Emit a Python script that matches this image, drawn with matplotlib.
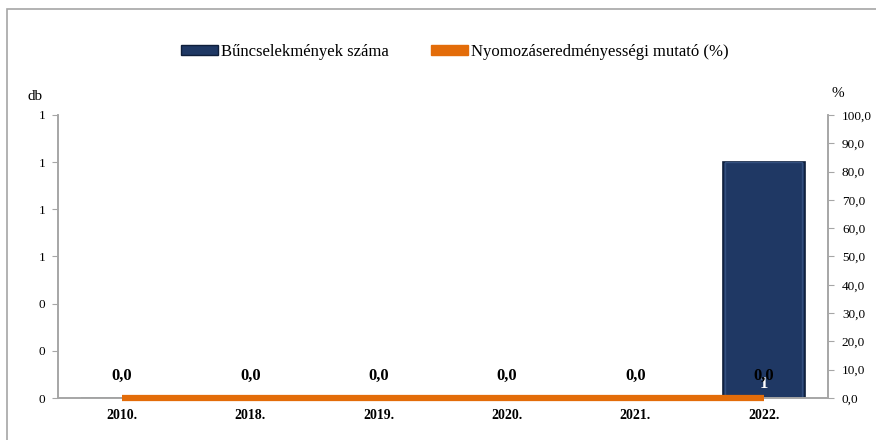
import matplotlib
matplotlib.use("Agg")
import matplotlib.pyplot as plt
import matplotlib.patches as patches
from matplotlib.ticker import FuncFormatter, MultipleLocator

years = ["2010.", "2018.", "2019.", "2020.", "2021.", "2022."]
crimes = [0, 0, 0, 0, 0, 1]
rate = [0.0, 0.0, 0.0, 0.0, 0.0, 0.0]

bar_color = "#1F3864"
line_color = "#E36C09"
axis_gray = "#A6A6A6"

plt.rcParams["font.family"] = ["Liberation Serif", "DejaVu Serif"]

fig = plt.figure(figsize=(8.76, 4.40), dpi=100)
ax = fig.add_axes([58/876, 1-398/440, (828-58)/876, (398-115)/440])
ax2 = ax.twinx()

x = list(range(len(years)))
bars = ax.bar(x, crimes, width=0.64, color=bar_color, edgecolor="#0E1E3A", linewidth=1.2, zorder=2)
# light inner rim to hint at the bevelled look
ax.bar(x, crimes, width=0.60, color="none", edgecolor="#34507E", linewidth=1.0, zorder=2)
for b, v in zip(bars, crimes):
    if v > 0:
        ax.annotate(str(v), (b.get_x() + b.get_width()/2, 0), xytext=(0, 10), textcoords="offset points",
                    ha="center", va="center", color="white", fontsize=12, fontweight="bold")

ax.set_xlim(-0.5, len(years) - 0.5)
ax.set_ylim(0, 1.2)
ax.yaxis.set_major_locator(MultipleLocator(0.2))
ax.yaxis.set_major_formatter(FuncFormatter(lambda v, p: f"{v:.0f}"))
ax.set_xticks(x)
ax.set_xticklabels(years, fontweight="bold", fontsize=10)

ax2.plot(x, rate, color=line_color, linewidth=4.5, solid_capstyle="butt", zorder=3, clip_on=False)
for xi, r in zip(x, rate):
    ax2.annotate(f"{r:.1f}".replace(".", ","), (xi, r), xytext=(0, 16), textcoords="offset points",
                 ha="center", va="center", fontsize=12, fontweight="bold")
ax2.set_ylim(0, 100)
ax2.yaxis.set_major_locator(MultipleLocator(10))
ax2.yaxis.set_major_formatter(FuncFormatter(lambda v, p: f"{v:.1f}".replace(".", ",")))

for a in (ax, ax2):
    a.spines["top"].set_visible(False)
    for s in ("left", "right", "bottom"):
        a.spines[s].set_color(axis_gray)
        a.spines[s].set_linewidth(1.2)
    a.tick_params(axis="y", colors=axis_gray, labelcolor="black", labelsize=9.5, length=4, pad=5)
ax.tick_params(axis="x", length=0, pad=8)
ax2.tick_params(axis="y", pad=6)
ax.set_facecolor("none")

fig.text(35/876, 1-97/440, "db", ha="center", va="center", fontsize=11)
fig.text(838/876, 1-93/440, "%", ha="center", va="center", fontsize=11)

# legend
handles = [patches.Patch(facecolor=bar_color, edgecolor="#0E1E3A"),
           patches.Patch(facecolor=line_color, edgecolor=line_color)]
fig.legend(handles, ["Bűncselekmények száma", "Nyomozáseredményességi mutató (%)"],
           loc="center", bbox_to_anchor=(455/876, 1-52/440), ncol=2, frameon=False,
           fontsize=12, handlelength=2.2, handleheight=0.5, handletextpad=0.2, columnspacing=2.5)

# outer frame
fig.patches.append(patches.Rectangle((7/876, -0.1), 1.1, 1-9/440+0.1, transform=fig.transFigure,
                                     fill=False, edgecolor=axis_gray, linewidth=1.2))

fig.savefig("out.png", dpi=100)
